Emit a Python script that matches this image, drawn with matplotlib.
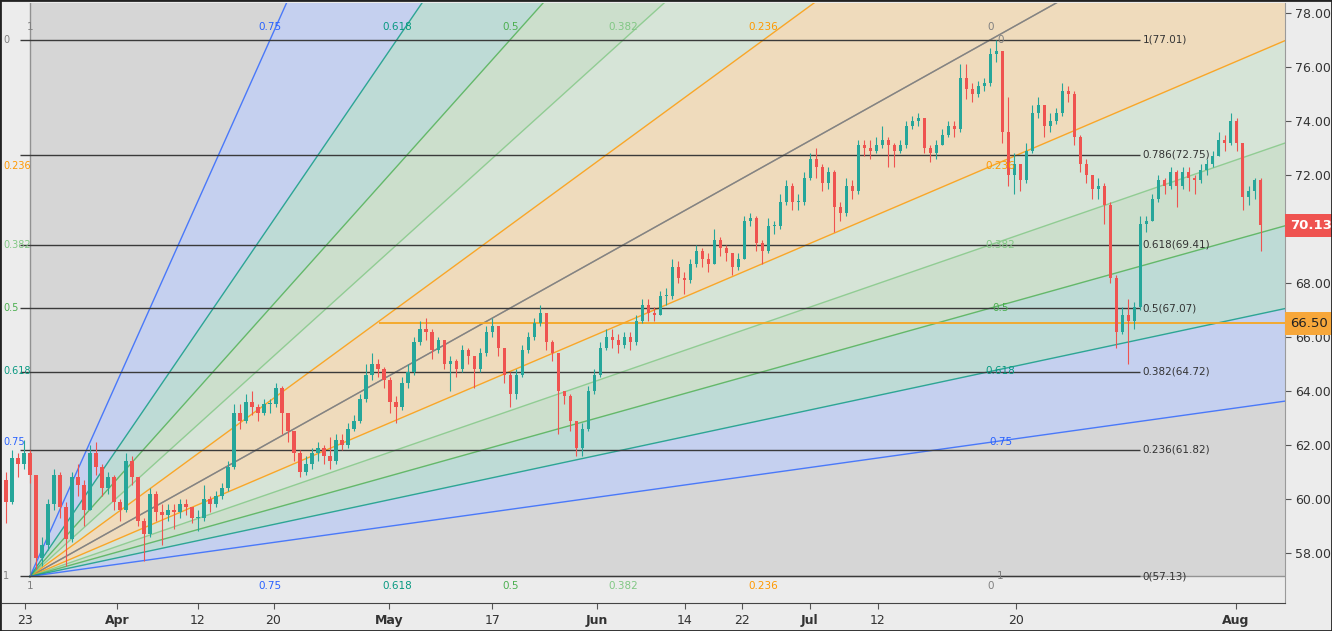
import numpy as np
import matplotlib.pyplot as plt
from matplotlib.patches import Polygon, Rectangle

# candles (one per bar), open of each bar = previous close
first_open = 60.7
closes = [
    59.9, 61.5, 61.3, 61.7, 60.9, 57.8, 58.3, 59.8, 60.9, 59.7,
    58.5, 60.8, 60.5, 59.6, 61.7, 61.2, 60.4, 60.8, 59.9, 59.6,
    61.4, 60.8, 59.2, 58.7, 60.2, 59.5, 59.4, 59.6, 59.5, 59.8,
    59.7, 59.3, 59.3, 60.0, 59.8, 60.1, 60.4, 61.2, 63.2, 62.9,
    63.6, 63.4, 63.2, 63.5, 63.5, 64.1, 63.2, 62.5, 61.7, 61.0,
    61.3, 61.7, 61.9, 61.6, 61.4, 62.2, 62.0, 62.6, 62.9, 63.7,
    64.6, 65.0, 64.8, 64.4, 63.6, 63.4, 64.3, 64.7, 65.8, 66.3,
    66.2, 65.5, 65.9, 65.0, 65.1, 64.8, 65.5, 65.3, 64.8, 65.4,
    66.2, 66.4, 65.6, 64.6, 63.9, 64.6, 65.5, 66.0, 66.5, 66.9,
    65.8, 65.4, 64.0, 63.8, 62.9, 61.9, 62.6, 64.0, 64.6, 65.6,
    66.0, 65.9, 65.7, 66.0, 65.8, 66.6, 67.2, 66.9, 66.8, 67.5,
    67.5, 68.6, 68.2, 68.1, 68.7, 69.2, 68.9, 68.7, 69.6, 69.3,
    69.1, 68.6, 68.9, 70.3, 70.4, 69.5, 69.2, 70.1, 70.1, 71.0,
    71.6, 71.0, 71.0, 71.9, 72.6, 72.3, 71.7, 72.1, 70.8, 70.6,
    71.6, 71.4, 73.1, 73.0, 72.9, 73.1, 73.3, 73.1, 72.9, 73.1,
    73.8, 74.0, 74.1, 73.0, 72.8, 73.1, 73.5, 73.8, 73.7, 75.6,
    75.2, 75.0, 75.3, 75.4, 76.5, 76.6, 73.6, 72.0, 72.4, 71.8,
    72.9, 74.3, 74.6, 73.8, 74.0, 74.3, 75.1, 75.0, 73.4, 72.4,
    72.0, 71.5, 71.6, 70.9, 68.2, 66.2, 66.8, 66.6, 67.1, 70.2,
    70.3, 71.1, 71.8, 71.6, 72.1, 71.6, 72.1, 71.9, 71.8, 72.2,
    72.4, 72.7, 73.3, 73.2, 74.0, 73.2, 71.2, 71.4, 71.8, 70.13,
]
highs = [
    61.0, 61.8, 61.7, 62.2, 61.8, 60.9, 58.6, 60.0, 61.1, 61.0,
    59.9, 61.0, 61.3, 60.7, 62.0, 62.1, 61.3, 61.0, 60.9, 60.0,
    61.7, 61.6, 60.8, 59.3, 60.4, 60.3, 59.8, 59.8, 59.8, 60.0,
    60.0, 59.7, 59.6, 60.5, 60.1, 60.3, 60.6, 61.4, 63.5, 63.5,
    63.9, 64.0, 63.5, 63.7, 63.7, 64.3, 64.2, 63.0, 62.4, 61.8,
    61.6, 61.9, 62.1, 62.0, 62.3, 62.4, 62.4, 62.8, 63.1, 63.9,
    65.0, 65.4, 65.2, 64.9, 64.5, 63.8, 64.5, 65.0, 66.0, 66.6,
    66.7, 66.3, 66.0, 65.9, 65.3, 65.2, 65.7, 65.6, 65.3, 65.6,
    66.4, 66.7, 66.4, 65.6, 64.7, 64.8, 65.7, 66.2, 66.7, 67.2,
    66.9, 65.9, 65.4, 64.0, 63.9, 62.9, 62.8, 64.2, 64.8, 65.8,
    66.3, 66.3, 66.1, 66.2, 66.2, 66.8, 67.4, 67.4, 67.1, 67.7,
    67.8, 68.9, 68.8, 68.4, 68.9, 69.4, 69.3, 69.1, 70.0, 69.7,
    69.4, 69.1, 69.1, 70.5, 70.6, 70.5, 69.6, 70.4, 70.3, 71.3,
    71.8, 71.7, 71.3, 72.1, 72.8, 73.0, 72.4, 72.3, 72.2, 71.0,
    71.9, 71.8, 73.3, 73.3, 73.3, 73.4, 73.8, 73.4, 73.2, 73.3,
    74.0, 74.2, 74.3, 74.1, 73.1, 73.3, 73.7, 74.0, 74.0, 76.1,
    76.1, 75.4, 75.5, 75.6, 76.7, 77.0, 76.6, 74.9, 72.8, 72.4,
    73.2, 74.6, 74.9, 74.6, 74.3, 74.5, 75.4, 75.3, 75.1, 73.5,
    72.6, 72.0, 71.9, 71.7, 71.0, 68.3, 67.1, 67.4, 67.3, 70.5,
    70.5, 71.3, 72.0, 71.9, 72.3, 72.2, 72.3, 72.3, 72.0, 72.4,
    72.6, 72.9, 73.6, 73.5, 74.3, 74.1, 73.0, 71.6, 71.9, 71.9,
]
lows = [
    59.1, 59.8, 60.8, 61.1, 60.6, 57.4, 57.5, 58.1, 59.6, 59.3,
    57.5, 58.4, 60.1, 59.0, 59.6, 60.9, 60.1, 60.2, 59.6, 59.2,
    59.5, 60.5, 59.0, 57.7, 58.6, 59.2, 58.3, 59.2, 58.9, 59.3,
    59.4, 59.1, 58.8, 59.2, 59.5, 59.7, 60.0, 60.3, 61.1, 62.6,
    62.8, 63.1, 62.9, 63.1, 63.2, 63.4, 62.4, 62.1, 61.4, 60.8,
    60.9, 61.1, 61.4, 61.3, 61.1, 61.3, 61.8, 61.9, 62.5, 62.8,
    63.6, 64.4, 64.5, 64.1, 63.2, 62.8, 63.3, 64.1, 64.6, 65.7,
    65.9, 65.2, 65.4, 64.8, 64.0, 64.5, 64.7, 65.0, 64.1, 64.7,
    65.3, 66.0, 65.3, 64.3, 63.4, 63.7, 64.5, 65.4, 65.9, 66.4,
    65.5, 65.1, 62.4, 63.5, 62.5, 61.6, 61.6, 62.5, 63.9, 64.5,
    65.5, 65.6, 65.4, 65.6, 65.5, 65.7, 66.5, 66.6, 66.6, 66.8,
    67.2, 67.4, 68.0, 67.6, 68.0, 68.6, 68.6, 68.4, 68.7, 69.0,
    68.8, 68.3, 68.5, 68.9, 70.1, 69.2, 68.7, 69.1, 69.8, 70.0,
    70.9, 70.7, 70.7, 70.9, 71.8, 71.9, 71.4, 71.5, 69.9, 70.3,
    70.5, 71.1, 71.3, 72.7, 72.6, 72.8, 73.0, 72.3, 72.3, 72.8,
    73.0, 73.7, 73.8, 72.8, 72.5, 72.6, 73.1, 73.4, 73.4, 73.6,
    74.8, 74.7, 74.9, 75.1, 75.3, 76.2, 73.2, 71.6, 71.3, 71.4,
    71.7, 72.8, 74.1, 73.4, 73.6, 73.9, 74.2, 74.7, 73.1, 72.1,
    71.7, 71.1, 71.1, 70.2, 68.0, 65.6, 66.1, 65.0, 66.3, 67.0,
    69.9, 70.3, 71.0, 71.3, 71.5, 70.8, 71.5, 71.4, 71.3, 71.7,
    72.0, 72.3, 72.7, 72.9, 73.1, 72.9, 70.7, 70.9, 71.1, 69.2,
]

# fib speed resistance fan: anchors (bar index, price)
fan_origin = (4, 57.13)
fan_target = (164, 77.01)
fan_levels = [0, 0.236, 0.382, 0.5, 0.618, 0.75, 1]
fan_names = ["0", "0.236", "0.382", "0.5", "0.618", "0.75", "1"]
fan_colors = ["#808080", "#ff9800", "#81c784", "#4caf50", "#089981", "#2962ff", "#808080"]

# fib retracement lines
fib_names = ["1", "0.786", "0.618", "0.5", "0.382", "0.236", "0"]
fib_prices = [77.01, 72.75, 69.41, 67.07, 64.72, 61.82, 57.13]
fib_span = (2.34, 188.96)

hline_price = 66.50
hline_start = 62.2
last_price = 70.13

y_ticks = [58, 60, 62, 64, 66, 68, 70, 72, 74, 76, 78]
tick_pos = [3.17, 18.47, 31.94, 44.58, 63.88, 81.0, 98.47, 113.1, 122.6, 133.9, 145.2, 168.3, 204.9]
tick_labels = ["23", "Apr", "12", "20", "May", "17", "Jun", "14", "22", "Jul", "12", "20", "Aug"]
month_labels = {"Apr", "May", "Jun", "Jul", "Aug"}

BG = "#ececec"
fig = plt.figure(figsize=(13.32, 6.31), dpi=100, facecolor=BG)
ax = fig.add_axes([0.0015, 0.0444, 0.9632, 0.9508])
ax.set_facecolor(BG)
xmin, xmax = -0.657, 213.07
ax.set_xlim(xmin, xmax)
ax.set_ylim(56.148, 78.37)

# --- fan wedges and rays
x0, p0 = fan_origin
x1, p1 = fan_target
dx, dp = x1 - x0, p1 - p0
far = 80
price_pts = [(x0 + far * dx, p0 + far * (1 - L) * dp) for L in fan_levels]
time_pts = [(x0 + far * (1 - L) * dx, p0 + far * dp) for L in fan_levels]

for i in range(len(fan_levels) - 1):
    for pts in (price_pts, time_pts):
        poly = Polygon([(x0, p0), pts[i], pts[i + 1]], closed=True,
                       facecolor=fan_colors[i + 1], alpha=0.2, edgecolor="none", zorder=0.5)
        ax.add_patch(poly)

for i, L in enumerate(fan_levels):
    for pts in (price_pts, time_pts):
        ax.plot([x0, pts[i][0]], [p0, pts[i][1]], color=fan_colors[i],
                lw=1, alpha=0.8, zorder=1)

# fan level labels
for L, name, c in zip(fan_levels, fan_names, fan_colors):
    lvl_price = p1 - L * dp
    ax.text(0.001, lvl_price, name, ha="left", va="center", color=c, fontsize=7,
            transform=ax.get_yaxis_transform(), zorder=4)
    ax.text(x1 + 1.7, lvl_price, name, ha="center", va="center", color=c, fontsize=7.5, zorder=4)
    tx = x0 + (1 - L) * dx
    ax.text(tx, p1 + 0.48, name, ha="center", va="center", color=c, fontsize=7.5, zorder=4)
    ax.text(tx, p0 - 0.37, name, ha="center", va="center", color=c, fontsize=7.5, zorder=4)

# --- fib retracement
ax.hlines(fib_prices, fib_span[0], fib_span[1], colors="#3a3a3a", lw=1, zorder=2)
for name, price in zip(fib_names, fib_prices):
    ax.text(fib_span[1] + 0.4, price, f"{name}({price:.2f})", ha="left", va="center",
            fontsize=7.5, color="#333333", zorder=4)

# --- horizontal level
ax.hlines(hline_price, hline_start, xmax, colors="#f5a623", lw=1.3, zorder=2)

# --- candles
c = np.array(closes)
h = np.array(highs)
lo = np.array(lows)
o = np.r_[first_open, c[:-1]]
idx = np.arange(len(c))
cols = np.where(c >= o, "#26a69a", "#ef5350")
ax.vlines(idx, lo, h, colors=cols, lw=0.8, zorder=3)
body = np.maximum(np.abs(c - o), 0.05)
ax.bar(idx, body, bottom=np.minimum(o, c), width=0.55, color=cols, zorder=3)

# --- axes styling
ax.yaxis.tick_right()
ax.set_yticks(y_ticks)
# the 70.00 label sits under the last-price badge, as in the original
ax.set_yticklabels(["" if abs(v - last_price) < 0.5 else f"{v:.2f}" for v in y_ticks])
ax.tick_params(axis="y", length=4, width=0.8, pad=3, labelsize=9, colors="#555555",
               labelcolor="#333333")
ax.set_xticks(tick_pos)
ax.set_xticklabels(tick_labels)
ax.tick_params(axis="x", length=4, width=0.8, pad=4, labelsize=9, colors="#555555",
               labelcolor="#333333")
for lab in ax.get_xticklabels():
    if lab.get_text() in month_labels:
        lab.set_fontweight("bold")

for side in ("left", "top"):
    ax.spines[side].set_visible(False)
ax.spines["right"].set_color("#9a9a9a")
ax.spines["bottom"].set_color("#444444")

# price badges on the right axis
ytr = ax.get_yaxis_transform()
ax.text(1.004, last_price, f"{last_price:.2f}", transform=ytr, ha="left", va="center",
        fontsize=9.5, color="white", fontweight="bold", zorder=5, clip_on=False,
        bbox=dict(boxstyle="square,pad=0.35", fc="#ef5350", ec="none"))
ax.text(1.004, hline_price, f"{hline_price:.2f}", transform=ytr, ha="left", va="center",
        fontsize=9.5, color="#222222", zorder=5, clip_on=False,
        bbox=dict(boxstyle="square,pad=0.35", fc="#f7a73a", ec="none"))

fig.patches.append(Rectangle((0, 0), 1, 1, transform=fig.transFigure, fill=False,
                             ec="#222222", lw=2))

fig.savefig("out.png", dpi=100, facecolor=BG)
